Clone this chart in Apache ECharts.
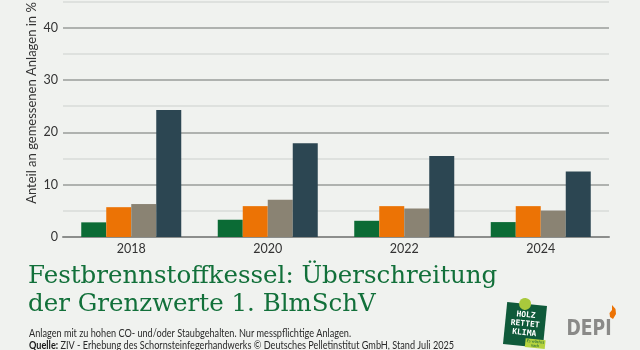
<!DOCTYPE html>
<html><head><meta charset="utf-8">
<script src="https://cdn.jsdelivr.net/npm/echarts@6/dist/echarts.min.js"></script>
<style>html,body{margin:0;padding:0;background:#f0f2ef;}#c{width:640px;height:350px;}</style>
</head><body><div id="c"></div>
<script>
const categories = ['2018', '2020', '2022', '2024'];
const seriesGreen = [2.8, 3.3, 3.1, 2.85];
const seriesOrange = [5.7, 5.9, 5.9, 5.9];
const seriesGray = [6.3, 7.1, 5.45, 5.05];
const seriesDark = [24.3, 17.9, 15.5, 12.5];
const yTickLabels = [0, 10, 20, 30, 40];

const chart = echarts.init(document.getElementById('c'), null, {renderer: 'canvas'});
const mk = (name, data, color) => ({
  name, type: 'bar', data, barWidth: 25, barGap: '0%',
  itemStyle: {color}, emphasis: {disabled: true}
});
chart.setOption({
  backgroundColor: '#f0f2ef',
  animation: false,
  grid: {left: 63, right: 31, top: 1.6, bottom: 113, containLabel: false},
  xAxis: {
    type: 'category', data: categories,
    axisLine: {show: true, lineStyle: {color: '#8c8e8c', width: 2}},
    axisTick: {show: false},
    axisLabel: {color: '#333', fontFamily: 'Lato', fontSize: 12.5, margin: 5}
  },
  yAxis: {
    type: 'value', min: 0, max: 45, interval: 5,
    axisLine: {show: false}, axisTick: {show: false},
    axisLabel: {
      color: '#333', fontFamily: 'Lato', fontSize: 12.5, margin: 5,
      formatter: v => yTickLabels.includes(v) ? String(v) : ''
    },
    splitLine: {show: true, lineStyle: {color: ['#9a9c9a', '#d9dbd8'], width: 1.5}}
  },
  series: [
    mk('Serie 1', seriesGreen, '#0b6b35'),
    mk('Serie 2', seriesOrange, '#ec7305'),
    mk('Serie 3', seriesGray, '#8a8373'),
    mk('Serie 4', seriesDark, '#2c4652')
  ],
  graphic: [
    {type: 'text', x: 32, y: 103, rotation: Math.PI / 2,
     style: {text: 'Anteil an gemessenen Anlagen in %', fill: '#333', font: '13px Lato',
             align: 'center', verticalAlign: 'middle'}},
    {type: 'text', x: 28, y: 277,
     style: {text: 'Festbrennstoffkessel: Überschreitung', fill: '#12703a', font: '24.5px "DejaVu Serif"',
             align: 'left', verticalAlign: 'middle'}},
    {type: 'text', x: 28, y: 305,
     style: {text: 'der Grenzwerte 1. BlmSchV', fill: '#12703a', font: '24.5px "DejaVu Serif"',
             align: 'left', verticalAlign: 'middle'}},
    {type: 'text', x: 29, y: 334, scaleX: 0.87,
     style: {text: 'Anlagen mit zu hohen CO- und/oder Staubgehalten. Nur messpflichtige Anlagen.',
             fill: '#2a2a2a', font: '10.5px Lato', align: 'left', verticalAlign: 'middle'}},
    {type: 'text', x: 29, y: 346, scaleX: 0.87,
     style: {text: '{b|Quelle:} ZIV - Erhebung des Schornsteinfegerhandwerks © Deutsches Pelletinstitut GmbH, Stand Juli 2025',
             fill: '#2a2a2a', font: '10.5px Lato', align: 'left', verticalAlign: 'middle',
             rich: {b: {fontWeight: 'bold', fontFamily: 'Lato', fontSize: 10.5, fill: '#1a1a1a'}}}},
    // HOLZ RETTET KLIMA badge
    {type: 'group', x: 525, y: 325, rotation: -0.1, children: [
      {type: 'rect', shape: {x: -20, y: -21, width: 40, height: 42}, style: {fill: '#0f5a3a'}},
      {type: 'circle', shape: {cx: -2, cy: -21, r: 6}, style: {fill: '#a9c93c'}},
      {type: 'text', x: 0, y: -1, style: {text: 'HOLZ\nRETTET\nKLIMA', fill: '#fff', font: 'bold 8px "DejaVu Sans Mono"',
        align: 'center', verticalAlign: 'middle', lineHeight: 9}},
      {type: 'rect', shape: {x: 2, y: 13, width: 20, height: 9}, style: {fill: '#b5d33f'}},
      {type: 'text', x: 12, y: 17.5, style: {text: 'Es wächst\nnach', fill: '#0f5a3a', font: '4px Lato',
        align: 'center', verticalAlign: 'middle', lineHeight: 4}}
    ]},
    // DEPI logo
    {type: 'text', x: 589, y: 330, scaleX: 0.82,
     style: {text: 'DEPI', fill: '#8a8a88', font: 'bold 21px "DejaVu Sans"', align: 'center', verticalAlign: 'middle'}},
    {type: 'polygon', shape: {points: [[612, 305], [615.5, 309], [616, 314], [613, 319], [610, 317], [609.5, 313], [612, 310]]},
     style: {fill: '#ec7305'}}
  ]
});
</script></body></html>
